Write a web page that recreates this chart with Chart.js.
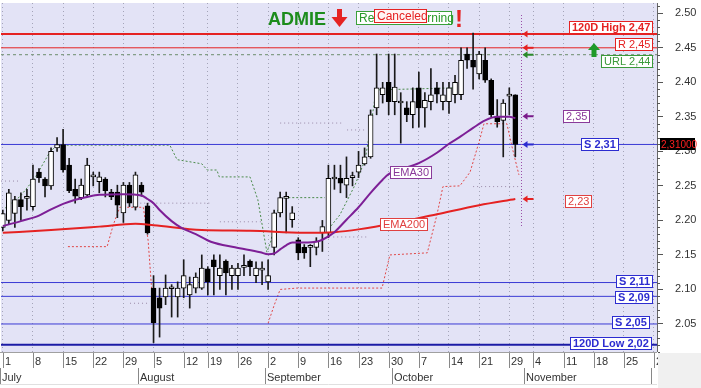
<!DOCTYPE html>
<html>
<head>
<meta charset="utf-8">
<script src="https://cdn.jsdelivr.net/npm/chart.js@4.4.0/dist/chart.umd.min.js"></script>
<style>
  html, body { margin: 0; padding: 0; background: #fff; }
  #wrap { position: relative; width: 701px; height: 388px; }
  #bg { position: absolute; left: 0; top: 0; width: 701px; height: 388px; }
  #c { position: absolute; left: 0; top: 0; display: block; }
</style>
</head>
<body>
<div id="wrap">
<canvas id="bg" width="701" height="388"></canvas>
<canvas id="c" width="701" height="388"></canvas>
</div>
<script>
// candles, one per trading day from 1 July (index 0) to 30 October (index 85)
const opens  = [2.19,2.20,2.21,2.23,2.232,2.22,2.27,2.26,2.25,2.305,2.31,2.28,2.245,2.233,2.237,2.263,2.256,2.26,2.241,2.241,
                2.211,2.251,2.219,2.251,2.221,2.102,2.088,2.089,2.101,2.089,2.102,2.092,2.102,2.102,2.13,2.143,2.12,2.141,2.12,2.12,
                2.132,2.141,2.12,2.128,2.111,2.161,2.211,2.232,2.201,2.172,2.161,2.161,2.161,2.182,2.182,2.26,2.261,2.251,2.262,2.27,
                2.282,2.292,2.363,2.382,2.40,2.372,2.37,2.363,2.353,2.392,2.363,2.372,2.392,2.372,2.372,2.382,2.382,2.441,2.432,2.412,
                2.432,2.403,2.35,2.345,2.38,2.382];
const highs  = [2.215,2.245,2.235,2.24,2.245,2.28,2.275,2.262,2.305,2.32,2.332,2.29,2.26,2.26,2.29,2.27,2.27,2.262,2.245,2.251,
                2.255,2.255,2.27,2.255,2.225,2.12,2.102,2.121,2.107,2.111,2.143,2.118,2.124,2.15,2.133,2.15,2.15,2.143,2.135,2.138,
                2.15,2.143,2.14,2.14,2.143,2.215,2.241,2.241,2.22,2.175,2.165,2.165,2.175,2.20,2.28,2.28,2.28,2.292,2.27,2.30,
                2.305,2.36,2.441,2.40,2.441,2.441,2.385,2.372,2.392,2.415,2.385,2.42,2.40,2.40,2.40,2.41,2.45,2.45,2.4715,2.445,
                2.45,2.405,2.375,2.375,2.392,2.382];
const lows   = [2.185,2.195,2.19,2.20,2.215,2.215,2.255,2.234,2.245,2.30,2.27,2.24,2.225,2.23,2.235,2.25,2.24,2.234,2.23,2.204,
                2.197,2.22,2.215,2.235,2.18,2.023,2.031,2.078,2.06,2.06,2.088,2.073,2.095,2.10,2.092,2.092,2.10,2.092,2.10,2.10,
                2.12,2.12,2.11,2.107,2.10,2.15,2.205,2.182,2.19,2.143,2.145,2.133,2.15,2.155,2.175,2.245,2.24,2.233,2.25,2.262,
                2.28,2.29,2.353,2.37,2.353,2.353,2.312,2.343,2.334,2.335,2.335,2.36,2.37,2.36,2.355,2.37,2.375,2.42,2.39,2.405,
                2.40,2.35,2.335,2.292,2.353,2.292];
const closes = [2.21,2.24,2.23,2.22,2.235,2.26,2.262,2.25,2.30,2.31,2.273,2.243,2.235,2.251,2.28,2.265,2.263,2.243,2.234,2.222,
                2.251,2.225,2.266,2.241,2.182,2.052,2.073,2.102,2.103,2.102,2.12,2.107,2.118,2.131,2.111,2.133,2.131,2.124,2.131,2.131,
                2.134,2.133,2.131,2.13,2.12,2.211,2.233,2.234,2.211,2.153,2.153,2.162,2.17,2.191,2.261,2.262,2.254,2.261,2.264,2.28,
                2.292,2.353,2.392,2.392,2.372,2.393,2.372,2.353,2.372,2.363,2.374,2.382,2.383,2.382,2.392,2.40,2.432,2.432,2.422,2.441,
                2.403,2.353,2.343,2.37,2.382,2.31];

// moving averages (x = trading day index)
const ema30X  = [0,3,6,8,10,12,14,16,20,23,24,25,26,28,29.5,32,34.5,38.5,42.7,44,45,46,47,48,50,52,53,55,57,59,61,63,64,66,69,72,74,76,78,80,82,84,85];
const ema30Y  = [2.192,2.199,2.207,2.216,2.224,2.230,2.234,2.237,2.238,2.236,2.231,2.225,2.215,2.199,2.190,2.180,2.169,2.161,2.154,2.151,2.152,2.158,2.164,2.168,2.168,2.169,2.172,2.183,2.201,2.219,2.240,2.259,2.267,2.274,2.283,2.298,2.311,2.322,2.334,2.345,2.350,2.350,2.348];
const ema200X = [0,8,16,22,25,33,41,50,55,59,66,72,79,85];
const ema200Y = [2.182,2.186,2.191,2.195,2.193,2.186,2.185,2.182,2.183,2.187,2.198,2.209,2.222,2.231];

// trailing stop lines (null = gap)
const greenTrailX = [0.4,2.9,5.3,7.8,9.0,27.7,28.9,33.0,33.9,35.5,35.9,41.0,42.3,43.3,43.8,44.5,45.3,46.5,53.4,53.5,53.6,55.9,58.4,60.1,61.2,61.9,75.0];
const greenTrailY = [2.218,2.235,2.261,2.299,2.309,2.309,2.288,2.282,2.273,2.273,2.263,2.263,2.230,2.179,2.154,2.171,2.208,2.233,2.233,null,2.183,2.208,2.251,2.288,2.346,2.389,2.392];
const redTrailX = [10.8,17.3,18.3,19.4,23.3,24.1,24.7,25.2,30,44.0,45.0,46.0,48.8,62.9,63.6,64.2,70.4,72.0,73.0,75.8,77.5,79.1,79.8,83.6,84.5,85.6];
const redTrailY = [2.162,2.162,2.193,2.219,2.219,2.171,2.099,2.053,null,2.051,2.077,2.100,2.102,2.102,2.128,2.150,2.153,2.208,2.249,2.250,2.270,2.317,2.340,2.340,2.305,2.266];

// short grey dotted levels: [from, to, value]
const greySegments = [[-0.3,3.0,2.257],[22.8,34.4,2.225],[36.0,43.2,2.198],[21.1,24.4,2.080],[46.0,56.4,2.341],[57.1,60.4,2.331],[54.8,60.4,2.176],[78.0,85.8,2.249]];

// horizontal levels
const levelValues = [2.47, 2.45, 2.44, 2.31, 2.11, 2.09, 2.05, 2.02];
const levelLabels = ['120D High 2,47', 'R 2,45', 'URL 2,44', 'S 2,31', 'S 2,11', 'S 2,09', 'S 2,05', '120D Low 2,02'];

// axis ticks
const weekTickIdx    = [0,5,10,15,20,25,30,34,39,44,49,54,59,64,69,74,79,84,88,93,98,103,108];
const weekTickLabels = ['1','8','15','22','29','5','12','19','26','2','9','16','23','30','7','14','21','29','4','11','18','25','2'];
const monthIdx    = [0, 23, 44, 65, 87, 108];
const monthLabels = ['July', 'August', 'September', 'October', 'November', ''];
const yTickVals = [2.05,2.10,2.15,2.20,2.25,2.30,2.35,2.40,2.45,2.50];

const xMin = -0.3, xMax = 108.5;
const yMin = 2.0094, yMax = 2.5149;
const FONT = '"Liberation Sans", Arial, sans-serif';

// build the datasets
const wickData = opens.map((o, i) => ({ x: i, y: [lows[i], highs[i]] }));
const bodyData = opens.map((o, i) => ({ x: i, y: [Math.min(o, closes[i]), Math.max(o, closes[i])] }));
const bodyFill = opens.map((o, i) => closes[i] >= o ? '#ffffff' : '#000000');

function pts(xs, ys) { return xs.map((x, i) => ({ x: x, y: ys[i] })); }

const greyData = [];
greySegments.forEach(s => {
  greyData.push({ x: s[0], y: s[2] }, { x: s[1], y: s[2] }, { x: s[1] + 0.01, y: null });
});

const levelStyle = [
  { c: '#e52222', w: 2 }, { c: '#e52222', w: 1 }, { c: '#6d8d6d', w: 1, d: [3, 3] }, { c: '#3a3ad4', w: 1 },
  { c: '#3a3ad4', w: 1 }, { c: '#3a3ad4', w: 1 }, { c: '#3a3ad4', w: 1 }, { c: '#1c1ca6', w: 2 }
];
const levelSets = levelValues.map((v, k) => ({
  type: 'line',
  data: [{ x: xMin, y: v }, { x: xMax, y: v }],
  borderColor: levelStyle[k].c,
  borderWidth: levelStyle[k].w,
  borderDash: levelStyle[k].d || [],
  pointRadius: 0,
  fill: false,
  order: 8
}));

const PLOT_BG = '#e3e3f6';

// background painted on a canvas under the chart, using the chart area once known
function paintBackground(chart) {
  const a = chart.chartArea;
  const b = document.getElementById('bg').getContext('2d');
  b.fillStyle = '#ffffff';
  b.fillRect(0, 0, 701, 388);
  b.fillStyle = PLOT_BG;
  b.fillRect(a.left, a.top, a.right - a.left, a.bottom - a.top);
  b.fillStyle = '#f0f0f0';
  b.fillRect(a.right + 1, a.bottom + 1, 701 - a.right, 388 - a.bottom);
}

// decorations: x axis rows, labels, arrows, title
const decor = {
  id: 'decor',
  afterDraw(chart) {
    const { ctx, chartArea: a } = chart;
    const xs = chart.scales.x, ys = chart.scales.y;
    paintBackground(chart);
    ctx.save();

    // minor ticks on the price axis
    ctx.strokeStyle = '#555';
    ctx.lineWidth = 1;
    for (let k = 201; k <= 251; k++) {
      if (k % 5 === 0) continue;
      const py = Math.round(ys.getPixelForValue(k / 100)) + 0.5;
      ctx.beginPath(); ctx.moveTo(a.right, py); ctx.lineTo(a.right + 3, py); ctx.stroke();
    }

    // x axis: week row and month row
    ctx.save();
    ctx.beginPath(); ctx.rect(0, a.bottom, a.right + 1, chart.height - a.bottom); ctx.clip();
    ctx.fillStyle = '#ffffff';
    ctx.fillRect(0, a.bottom, a.right + 1, chart.height - a.bottom);
    ctx.strokeStyle = '#a0a0a0';
    ctx.beginPath(); ctx.moveTo(0, a.bottom + 0.5); ctx.lineTo(a.right, a.bottom + 0.5); ctx.stroke();
    ctx.strokeStyle = '#e0e0e0';
    ctx.beginPath(); ctx.moveTo(0, a.bottom + 32.5); ctx.lineTo(a.right, a.bottom + 32.5); ctx.stroke();
    ctx.strokeStyle = '#888';
    ctx.fillStyle = '#333';
    ctx.font = '11px ' + FONT;
    ctx.textBaseline = 'alphabetic';
    weekTickIdx.forEach((v, k) => {
      const px = Math.round(xs.getPixelForValue(v)) + 0.5;
      ctx.beginPath(); ctx.moveTo(px, a.bottom + 1); ctx.lineTo(px, a.bottom + 16); ctx.stroke();
      ctx.fillText(weekTickLabels[k], px + 1.5, a.bottom + 13);
    });
    monthIdx.forEach((v, k) => {
      const px = Math.round(xs.getPixelForValue(v - 0.5)) + 0.5;
      ctx.beginPath(); ctx.moveTo(px, a.bottom + 16); ctx.lineTo(px, a.bottom + 32); ctx.stroke();
      ctx.fillText(monthLabels[k], px + 1.5, a.bottom + 29);
    });
    ctx.restore();

    // vertical dotted marker after last candle
    const vx = Math.round(xs.getPixelForValue(86)) + 0.5;
    ctx.strokeStyle = '#9a50a8';
    ctx.setLineDash([1, 2]);
    ctx.beginPath(); ctx.moveTo(vx, 15); ctx.lineTo(vx, 228); ctx.stroke();
    ctx.setLineDash([]);

    function box(text, x, cy, color, bold, alignRight, fill) {
      ctx.font = (bold ? 'bold ' : '') + '11px ' + FONT;
      const w = Math.round(ctx.measureText(text).width + 5);
      const h = 12;
      const left = Math.round(alignRight ? x - w : x);
      const top = Math.round(cy - h / 2);
      ctx.fillStyle = fill || '#ffffff';
      ctx.fillRect(left, top, w, h);
      ctx.strokeStyle = color;
      ctx.lineWidth = 1;
      ctx.strokeRect(left + 0.5, top + 0.5, w, h);
      ctx.fillStyle = color;
      ctx.textBaseline = 'middle';
      ctx.textAlign = 'left';
      ctx.fillText(text, left + 3, top + h / 2 + 1);
    }
    function leftArrow(y, color) {
      const x = vx + 1;
      ctx.fillStyle = color; ctx.strokeStyle = color; ctx.lineWidth = 2;
      ctx.beginPath(); ctx.moveTo(x + 3, y); ctx.lineTo(x + 11, y); ctx.stroke();
      ctx.beginPath(); ctx.moveTo(x, y); ctx.lineTo(x + 5, y - 3.5); ctx.lineTo(x + 5, y + 3.5); ctx.closePath(); ctx.fill();
      ctx.lineWidth = 1;
    }

    // level labels
    const lvColor = ['#e52222', '#e52222', '#3a9a3a', '#2c2cd0', '#2c2cd0', '#2c2cd0', '#2c2cd0', '#2c2cd0'];
    const lvBold  = [true, false, false, true, true, true, true, true];
    const lvRight = [652, 652, 652, 618, 652, 652, 649, 651];
    const lvShift = [-7, -4, 6, 0, -2, 1, -1.5, -2];
    levelValues.forEach((v, k) => {
      box(levelLabels[k], lvRight[k], ys.getPixelForValue(v) + lvShift[k], lvColor[k], lvBold[k], true);
    });

    // arrows at the right end of the candles
    const lastE30 = ema30Y[ema30Y.length - 1], lastE200 = ema200Y[ema200Y.length - 1];
    leftArrow(ys.getPixelForValue(levelValues[0]), '#e52222');
    leftArrow(ys.getPixelForValue(levelValues[1]), '#e52222');
    leftArrow(ys.getPixelForValue(levelValues[2]), '#2a8a2a');
    leftArrow(ys.getPixelForValue(lastE30) - 2, '#7a1a8a');
    leftArrow(ys.getPixelForValue(levelValues[3]), '#2c2cd0');
    leftArrow(ys.getPixelForValue(lastE200), '#e52222');

    box(lastE30.toFixed(2).replace('.', ','), 563, ys.getPixelForValue(lastE30) - 2, '#8a3a9a', false, false);
    box(lastE200.toFixed(2).replace('.', ','), 565, ys.getPixelForValue(lastE200) + 2, '#e04040', false, false);

    // line name labels
    box('EMA30', 390, 172, '#8a3a9a', false, false);
    box('EMA200', 380, 224, '#e04040', false, false);

    // green up arrow near URL level
    ctx.fillStyle = '#1f9a2a';
    ctx.beginPath(); ctx.moveTo(594, 43); ctx.lineTo(588, 50); ctx.lineTo(600, 50); ctx.closePath(); ctx.fill();
    ctx.fillRect(591.5, 50, 5, 7);

    // last price tag on the axis
    const lastClose = closes[closes.length - 1];
    const ly = Math.round(ys.getPixelForValue(lastClose));
    ctx.fillStyle = '#000';
    ctx.fillRect(660, ly - 6, 35, 12);
    ctx.fillStyle = '#ff2020';
    ctx.font = '10px ' + FONT;
    ctx.textBaseline = 'middle';
    ctx.fillText(lastClose.toFixed(5).replace('.', ','), 661, ly + 1);

    // title block
    ctx.textBaseline = 'alphabetic';
    ctx.font = 'bold 18px ' + FONT;
    ctx.fillStyle = '#1c8c1c';
    ctx.fillText('ADMIE', 268, 25);
    ctx.fillStyle = '#e52222';
    ctx.fillRect(337, 9, 5, 10);
    ctx.beginPath(); ctx.moveTo(331.5, 17); ctx.lineTo(347.5, 17); ctx.lineTo(339.5, 27); ctx.closePath(); ctx.fill();

    ctx.fillStyle = '#ffffff';
    ctx.fillRect(356, 11, 96, 14);
    ctx.strokeStyle = '#3aa03a';
    ctx.strokeRect(356.5, 11.5, 95, 13);
    ctx.font = '12px ' + FONT;
    ctx.fillStyle = '#2a9a2a';
    ctx.fillText('Reversal Warning', 359, 22);

    ctx.fillStyle = '#fff4f4';
    ctx.fillRect(374, 9, 53, 14);
    ctx.strokeStyle = '#e52222';
    ctx.strokeRect(374.5, 9.5, 52, 13);
    ctx.fillStyle = '#e52222';
    ctx.fillText('Canceled', 377, 20);

    ctx.font = 'bold 24px ' + FONT;
    ctx.fillText('!', 455, 27);

    ctx.restore();
  }
};

new Chart(document.getElementById('c').getContext('2d'), {
  type: 'bar',
  data: {
    datasets: [
      { type: 'line', data: greyData, borderColor: '#9a8aa8', borderWidth: 1, borderDash: [1, 3], pointRadius: 0, spanGaps: false, fill: false, order: 10 },
      { type: 'line', data: pts(greenTrailX, greenTrailY), borderColor: '#4a8a4a', borderWidth: 1, borderDash: [2, 2], pointRadius: 0, spanGaps: false, fill: false, order: 9 },
      { type: 'line', data: pts(redTrailX, redTrailY), borderColor: '#e04848', borderWidth: 1, borderDash: [2, 2], pointRadius: 0, spanGaps: false, fill: false, order: 9 },
      ...levelSets,
      { type: 'bar', data: wickData, backgroundColor: '#1a1a1a', borderWidth: 0, barThickness: 1, grouped: false, order: 5 },
      { type: 'bar', data: bodyData, backgroundColor: bodyFill, borderColor: '#000', borderWidth: 1, borderSkipped: false,
        barThickness: 5, minBarLength: 2, grouped: false, order: 4 },
      { type: 'line', data: pts(ema200X, ema200Y), borderColor: '#e52222', borderWidth: 2, pointRadius: 0, cubicInterpolationMode: 'monotone', fill: false, order: 1 },
      { type: 'line', data: pts(ema30X, ema30Y), borderColor: '#7d1f96', borderWidth: 2, pointRadius: 0, cubicInterpolationMode: 'monotone', fill: false, order: 0 }
    ]
  },
  options: {
    responsive: false,
    animation: false,
    devicePixelRatio: 1,
    layout: { padding: { top: 3, left: 1, right: 0, bottom: 0 } },
    plugins: { legend: { display: false }, tooltip: { enabled: false } },
    scales: {
      x: {
        type: 'linear', min: xMin, max: xMax, offset: false,
        afterBuildTicks: s => { s.ticks = weekTickIdx.map(v => ({ value: v })); },
        afterFit: s => { s.height = 36; s.paddingLeft = 0; s.paddingRight = 0; },
        ticks: { display: false },
        grid: { color: '#a4a4b8', drawTicks: false, offset: false },
        border: { display: false, dash: [1, 3] }
      },
      y: {
        position: 'right', min: yMin, max: yMax,
        afterBuildTicks: s => { s.ticks = yTickVals.map(v => ({ value: v })); },
        afterFit: s => { s.width = 44; s.paddingTop = 0; s.paddingBottom = 0; },
        ticks: { callback: v => v.toFixed(2), color: '#333', font: { size: 11, family: FONT }, padding: 12 },
        grid: { drawOnChartArea: false, tickLength: 6, color: '#555' },
        border: { display: true, color: '#666' }
      }
    }
  },
  plugins: [decor]
});
</script>
</body>
</html>
